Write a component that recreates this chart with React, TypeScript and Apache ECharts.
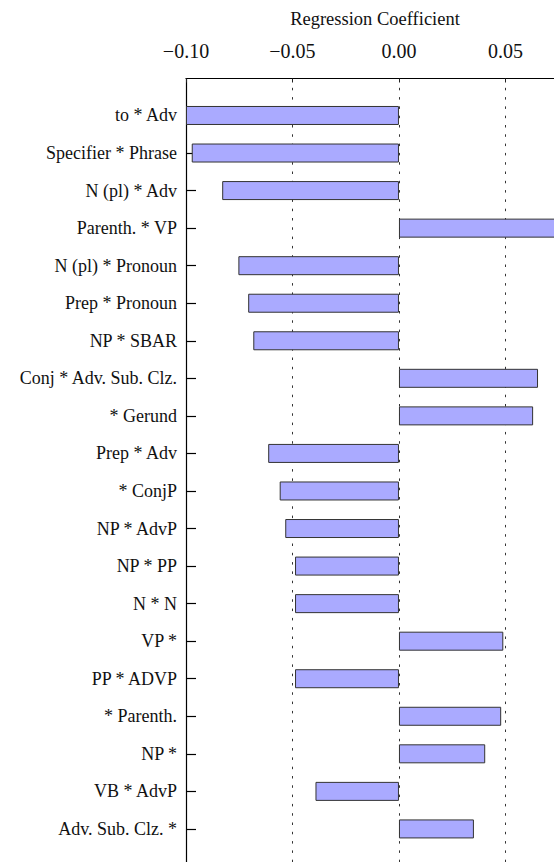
import React, { useEffect, useRef } from "react";
import * as echarts from "echarts";

const categories = [
  "to * Adv",
  "Specifier * Phrase",
  "N (pl) * Adv",
  "Parenth. * VP",
  "N (pl) * Pronoun",
  "Prep * Pronoun",
  "NP * SBAR",
  "Conj * Adv. Sub. Clz.",
  "* Gerund",
  "Prep * Adv",
  "* ConjP",
  "NP * AdvP",
  "NP * PP",
  "N * N",
  "VP *",
  "PP * ADVP",
  "* Parenth.",
  "NP *",
  "VB * AdvP",
  "Adv. Sub. Clz. *",
];

const coefficients = [
  -0.1, -0.0973, -0.083, 0.08, -0.0754, -0.0708, -0.0684, 0.0653, 0.063, -0.0614,
  -0.056, -0.0534, -0.0488, -0.0488, 0.049, -0.0488, 0.048, 0.0405, -0.0392, 0.0352,
];

const xMin = -0.1;
const xMax = 0.0775;
const xInterval = 0.05;
const axisTitle = "Regression Coefficient";

const FONT = "'Liberation Serif', 'Times New Roman', Times, serif";

export default function App() {
  const ref = useRef<HTMLDivElement>(null);
  useEffect(() => {
    if (!ref.current) return;
    const chart = echarts.init(ref.current, undefined, { renderer: "svg" });
    const fmt = (v: number) => {
      const s = Math.abs(v).toFixed(2);
      return v < -1e-9 ? "\u2212" + s : s;
    };
    chart.setOption({
      animation: false,
      backgroundColor: "#ffffff",
      textStyle: { fontFamily: FONT },
      grid: [
        { left: 186, right: 0, top: 96.7, bottom: 14.3, containLabel: false, outerBoundsMode: "none" },
        {
          left: 186,
          right: 0,
          top: 78.5,
          bottom: -4,
          containLabel: false,
          outerBoundsMode: "none",
          show: false,
        },
      ],
      xAxis: [
        {
          gridIndex: 0,
          type: "value",
          min: xMin,
          max: xMax,
          interval: xInterval,
          show: false,
        },
        {
          gridIndex: 1,
          type: "value",
          position: "top",
          min: xMin,
          max: xMax,
          interval: xInterval,
          name: axisTitle,
          nameLocation: "middle",
          nameGap: 50,
          nameTextStyle: { fontFamily: FONT, fontSize: 18.5, color: "#111" },
          axisLine: { show: true, onZero: false, lineStyle: { color: "#000", width: 1.2 } },
          axisTick: {
            show: true,
            inside: true,
            length: 4,
            lineStyle: { color: "#222", width: 1 },
          },
          axisLabel: {
            show: true,
            fontFamily: FONT,
            fontSize: 20,
            color: "#111",
            margin: 18,
            showMaxLabel: false,
            formatter: fmt,
          },
          splitLine: {
            show: true,
            lineStyle: { color: "#333", width: 1, type: [2.5, 6.8] },
          },
        },
      ],
      yAxis: [
        {
          gridIndex: 0,
          type: "category",
          inverse: true,
          data: categories,
          axisLine: { show: false, onZero: false },
          axisTick: {
            show: true,
            inside: true,
            length: 10,
            alignWithLabel: true,
            lineStyle: { color: "#000", width: 1.2 },
          },
          axisLabel: {
            fontFamily: FONT,
            fontSize: 18,
            color: "#111",
            margin: 9,
          },
          splitLine: { show: false },
        },
        {
          gridIndex: 1,
          type: "value",
          min: 0,
          max: 1,
          axisLine: { show: true, onZero: false, lineStyle: { color: "#000", width: 1.2 } },
          axisTick: { show: false },
          axisLabel: { show: false },
          splitLine: { show: false },
        },
      ],
      series: [
        {
          type: "bar",
          xAxisIndex: 0,
          yAxisIndex: 0,
          data: coefficients,
          barWidth: 19,
          clip: true,
          itemStyle: { color: "#aaaaff", borderColor: "#333", borderWidth: 1 },
        },
      ],
    });
    return () => chart.dispose();
  }, []);
  return (
    <div
      ref={ref}
      style={{ position: "fixed", left: 0, top: 0, width: 564, height: 862 }}
    />
  );
}
